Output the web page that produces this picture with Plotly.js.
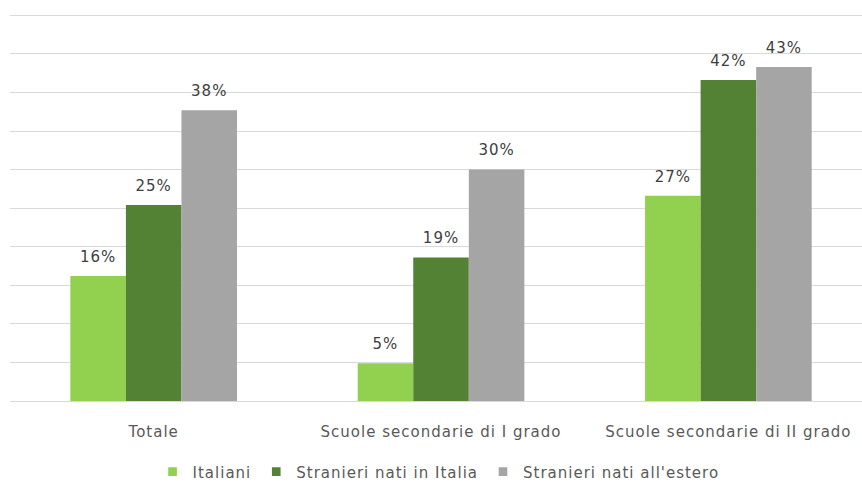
<!DOCTYPE html>
<html>
<head>
<meta charset="utf-8">
<script src="https://cdn.plot.ly/plotly-3.0.1.min.js"></script>
<style>
html,body{margin:0;padding:0;background:#fff;}
#chart{width:862px;height:483px;}
svg text{letter-spacing:1px;}
</style>
</head>
<body>
<div id="chart"></div>
<script>
const categories = ["Totale", "Scuole secondarie di I grado", "Scuole secondarie di II grado"];
const seriesNames = ["Italiani", "Stranieri nati in Italia", "Stranieri nati all'estero"];
const italiani = [16.2, 4.9, 26.6];
const natiItalia = [25.4, 18.6, 41.6];
const natiEstero = [37.7, 30.0, 43.3];
const colors = ["#92D050", "#548235", "#A5A5A5"];

const seriesValues = [italiani, natiItalia, natiEstero];
const font = "DejaVu Sans, sans-serif";

const traces = [];
seriesValues.forEach((vals, i) => {
  traces.push({
    type: "bar",
    name: seriesNames[i],
    x: categories,
    y: vals,
    marker: {color: colors[i]},
    offsetgroup: "g" + i,
    alignmentgroup: "a",
    hoverinfo: "skip"
  });
});
seriesValues.forEach((vals, i) => {
  traces.push({
    type: "scatter",
    mode: "markers+text",
    x: categories,
    y: vals,
    text: vals.map(v => Math.round(v) + "%"),
    textposition: "top center",
    textfont: {family: font, size: 15, color: "#404040"},
    marker: {size: 15, opacity: 0},
    offsetgroup: "g" + i,
    alignmentgroup: "a",
    showlegend: false,
    hoverinfo: "skip",
    cliponaxis: false
  });
});

const layout = {
  width: 862, height: 483,
  margin: {l: 10, r: 0, t: 13, b: 82},
  paper_bgcolor: "#fff", plot_bgcolor: "#fff",
  barmode: "group",
  bargap: 0.42,
  bargroupgap: 0,
  scattermode: "group",
  scattergap: 0.42,
  font: {family: font, size: 15, color: "#595959"},
  xaxis: {
    type: "category",
    range: [-0.5, 2.465],
    automargin: false,
    showgrid: false, zeroline: false, showline: false,
    ticks: "", ticklabelstandoff: 20,
    tickfont: {family: font, size: 15, color: "#595959"}
  },
  yaxis: {
    range: [0, 50.3],
    dtick: 5,
    automargin: false,
    showticklabels: false,
    showgrid: true, gridcolor: "#D9D9D9", gridwidth: 1,
    zeroline: true, zerolinecolor: "#D9D9D9", zerolinewidth: 1,
    showline: false, ticks: ""
  },
  showlegend: true,
  legend: {
    orientation: "h",
    xref: "paper", x: 0.503, xanchor: "center",
    yref: "container", y: 0.023, yanchor: "middle",
    font: {family: font, size: 15, color: "#595959"},
    itemwidth: 30, tracegroupgap: 0
  }
};

Plotly.newPlot("chart", traces, layout, {displayModeBar: false, staticPlot: true}).then(gd => {
  gd.querySelectorAll(".legendpoints path").forEach(p => {
    const t = p.getAttribute("transform") || "";
    p.setAttribute("transform", t + " scale(0.72)");
  });
});
</script>
</body>
</html>
